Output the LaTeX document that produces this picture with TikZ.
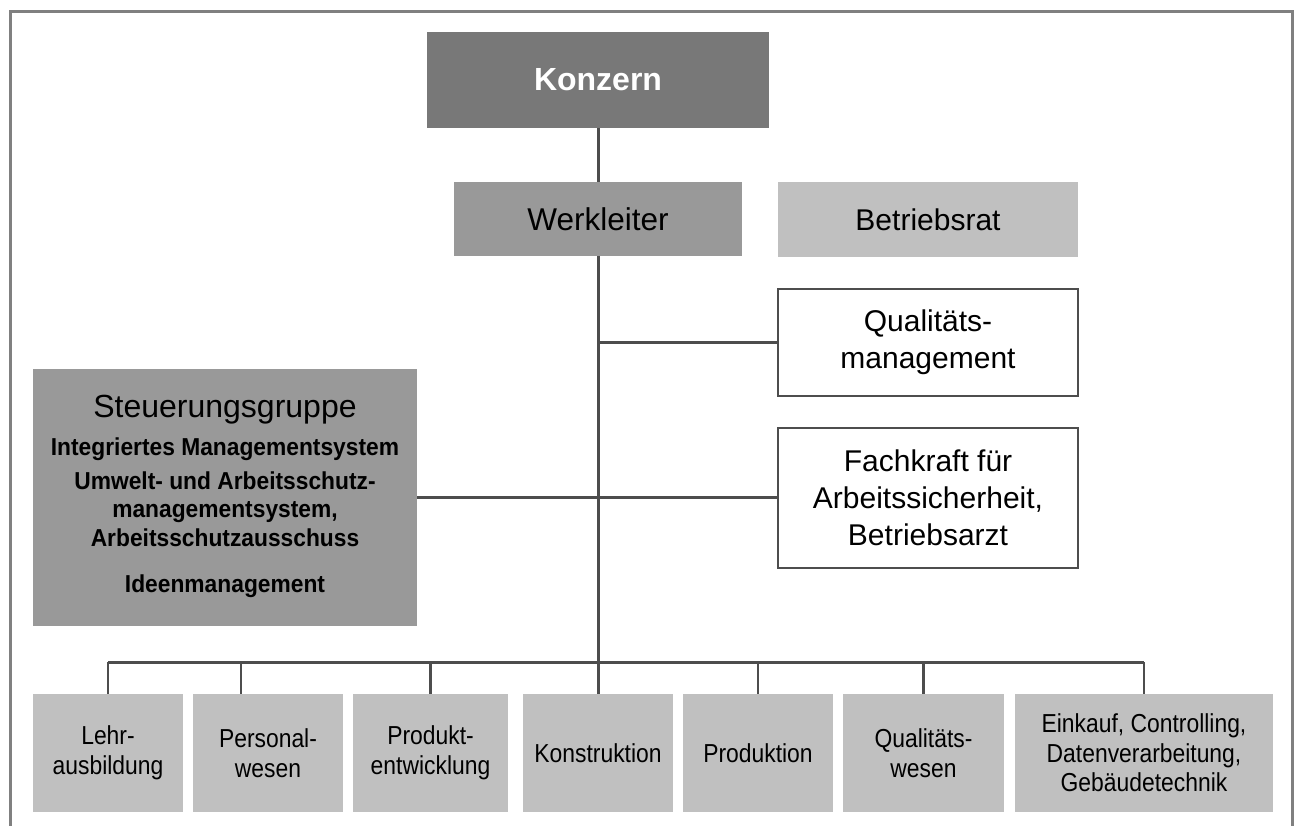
\documentclass[tikz,border=0pt]{standalone}
\usepackage{fontspec}
\setmainfont{Liberation Sans}
\newfontfamily\narrowfont[FakeStretch=0.88]{Liberation Sans}
\newfontfamily\subfont[FakeStretch=0.93]{Liberation Sans}
\definecolor{framegray}{HTML}{808080}
\definecolor{linegray}{HTML}{4D4D4D}
\definecolor{topfill}{HTML}{787878}
\definecolor{midfill}{HTML}{999999}
\definecolor{lightfill}{HTML}{C0C0C0}
\tikzset{
  box/.style={rectangle, inner sep=0pt, align=center, text=black},
  topbox/.style={box, fill=topfill, text=white, font=\fontsize{32}{36}\selectfont\bfseries},
  midbox/.style={box, fill=midfill, font=\fontsize{31.5}{37}\selectfont},
  lightbox/.style={box, fill=lightfill, font=\fontsize{30}{37}\selectfont},
  staffbox/.style={box, fill=white, draw=linegray, line width=2pt, font=\fontsize{30}{37}\selectfont},
  deptbox/.style={box, fill=lightfill, minimum height=118pt, font=\narrowfont\fontsize{26}{29.5}\selectfont},
  trunk/.style={draw=linegray, line width=3pt},
  conn/.style={draw=linegray, line width=2.5pt},
  subline/.style={anchor=base, text=black, font=\subfont\bfseries\fontsize{24.5}{28}\selectfont},
}
\begin{document}
\begin{tikzpicture}[x=1pt,y=-1pt]
\useasboundingbox (0,0) rectangle (1297,826);

% outer frame, open at the bottom
\draw[framegray, line width=3pt] (10.5,826) -- (10.5,11.5) -- (1292.5,11.5) -- (1292.5,826);

% management levels
\node[topbox, minimum width=342pt, minimum height=96pt] (konzern) at (598,80) {Konzern};
\node[midbox, minimum width=288pt, minimum height=74pt] (werk) at (598,219) {Werkleiter};
\node[lightbox, minimum width=300pt, minimum height=75pt] (rat) at (928,219.5) {Betriebsrat};

% staff functions
\node[staffbox, minimum width=300pt, minimum height=107pt] (qual) at (928,342.5) {Qualitäts-\\management};
\node[staffbox, minimum width=300pt, minimum height=140pt] (fach) at (928,497.5) {Fachkraft für\\Arbeitssicherheit,\\Betriebsarzt};

% steering group with its committees
\node[box, fill=midfill, minimum width=384pt, minimum height=257pt] (steuer) at (225,497.5) {};
\node[anchor=base, text=black, font=\fontsize{32}{36}\selectfont] (steuertitle) at (225,417) {Steuerungsgruppe};
\node[subline] (ims) at (225,455) {Integriertes Managementsystem};
\node[subline] (uas1) at (225,489) {Umwelt- und Arbeitsschutz-};
\node[subline] (uas2) at (225,517.5) {managementsystem,};
\node[subline] (uas3) at (225,546.5) {Arbeitsschutzausschuss};
\node[subline] (idee) at (225,592) {Ideenmanagement};

% departments
\node[deptbox, minimum width=150pt] (p1) at (108,753) {Lehr-\\ausbildung};
\node[deptbox, minimum width=150pt] (p2) at (268,753) {Personal-\\wesen};
\node[deptbox, minimum width=155pt] (p3) at (430.5,753) {Produkt-\\entwicklung};
\node[deptbox, minimum width=150pt] (p4) at (598,753) {Konstruktion};
\node[deptbox, minimum width=150pt] (p5) at (758,753) {Produktion};
\node[deptbox, minimum width=161pt] (p6) at (923.5,753) {Qualitäts-\\wesen};
\node[deptbox, minimum width=258pt] (p7) at (1144,753) {Einkauf, Controlling,\\Datenverarbeitung,\\Gebäudetechnik};

% connectors
\coordinate (bus) at (598,662);
\draw[trunk] (konzern.south) -- (werk.north);
\draw[trunk] (werk.south) -- (bus);
\draw[conn] (qual.west -| werk.south) -- (qual.west);
\draw[conn] (steuer.east) -- (steuer.east -| fach.west);
\draw[trunk] (p1.north |- bus) -- (p7.north |- bus);
\draw[conn] (p1.north) -- (p1.north |- bus);
\draw[conn] ([xshift=-27pt]p2.north) -- ([xshift=-27pt]p2.north |- bus);
\draw[conn] (p3.north) -- (p3.north |- bus);
\draw[trunk] (p4.north) -- (bus);
\draw[conn] (p5.north) -- (p5.north |- bus);
\draw[conn] (p6.north) -- (p6.north |- bus);
\draw[conn] (p7.north) -- (p7.north |- bus);
\end{tikzpicture}
\end{document}
